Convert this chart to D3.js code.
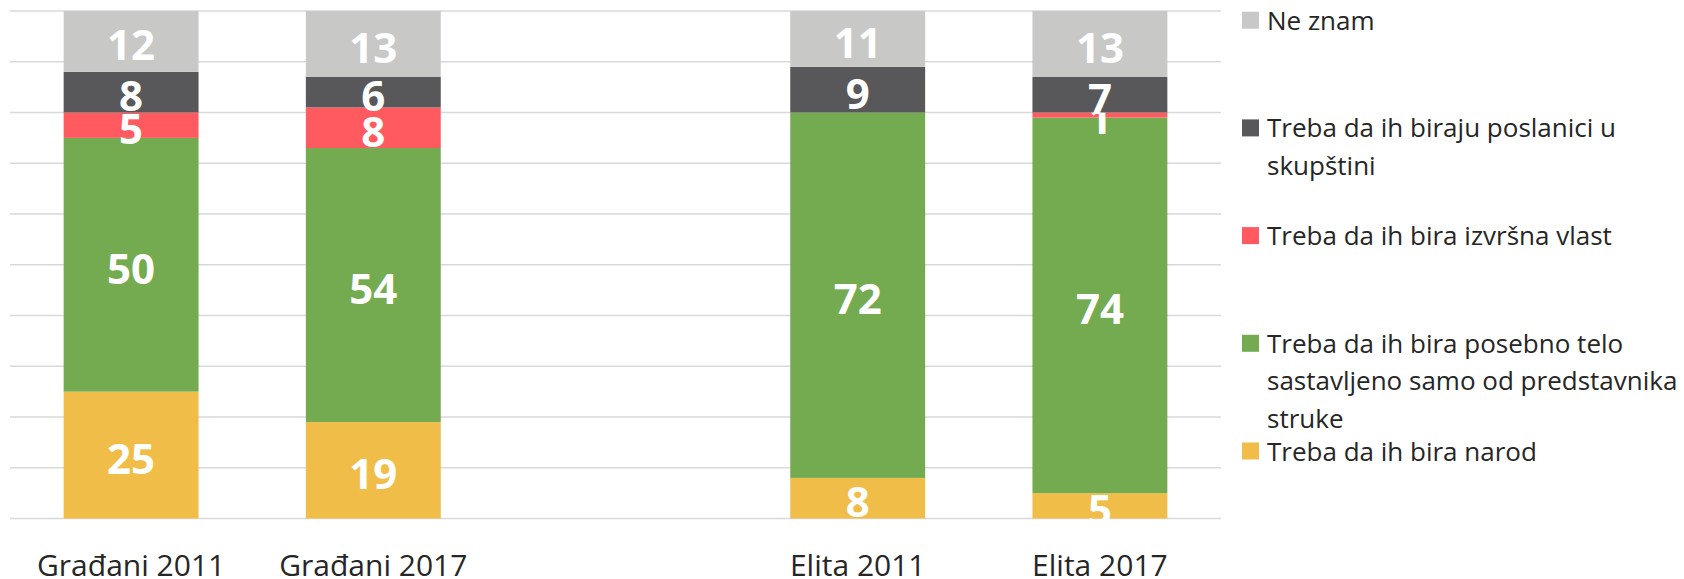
<!DOCTYPE html>
<html>
<head>
<meta charset="utf-8">
<script src="https://cdn.jsdelivr.net/npm/d3@7"></script>
<style>
  body{margin:0;background:#fff;}
  text{font-family:"Open Sans","Noto Sans",sans-serif;}
  .inside{fill:#fff;font-weight:bold;font-size:42px;text-anchor:middle;}
  .label{fill:#262626;font-size:26px;}
  .tick text{fill:#262626;font-size:30px;}
</style>
</head>
<body>
<svg id="stackchart"></svg>
<script>
// categories (x axis), with one empty slot between the two groups
const categories=["Građani 2011","Građani 2017","Elita 2011","Elita 2017"];
const slots=["Građani 2011","Građani 2017","gap","Elita 2011","Elita 2017"];
// series, bottom to top of each bar
const seriesNames=[
  "Treba da ih bira narod",
  "Treba da ih bira posebno telo\nsastavljeno samo od predstavnika\nstruke",
  "Treba da ih bira izvršna vlast",
  "Treba da ih biraju poslanici u\nskupštini",
  "Ne znam"
];
const narod=[25,19,8,5];
const posebnoTelo=[50,54,72,74];
const izvrsna=[5,8,0,1];
const poslanici=[8,6,9,7];
const neZnam=[12,13,11,13];
const yTicks=[0,10,20,30,40,50,60,70,80,90,100];

function stackchart(){
    const width=1684;
    const height=579;
    const svg=d3.select("#stackchart")
                .attr("width",width)
                .attr("height",height);

    // colours in the same order as the series
    var color=d3.scaleOrdinal()
        .domain(seriesNames)
        .range(["#f0be48","#74ab50","#ff5a5f","#58585a","#c8c8c6"]);

    // build a table the stack layout can read
    const allSeries=[narod,posebnoTelo,izvrsna,poslanici,neZnam];
    const table=categories.map(function(c,i){
        var row={category:c};
        seriesNames.forEach(function(s,j){row[s]=allSeries[j][i];});
        return row;
    });
    const stacked=d3.stack().keys(seriesNames)(table);

    var x=d3.scaleBand()
        .domain(slots)
        .range([10,1221])
        .paddingInner(0.443)
        .paddingOuter(0.2215);
    var y=d3.scaleLinear()
        .domain([0,100])
        .range([518.5,11]);

    // horizontal grid lines
    svg.append("g").selectAll("line")
        .data(yTicks)
        .enter().append("line")
        .attr("x1",10)
        .attr("x2",1221)
        .attr("y1",function(d){return y(d);})
        .attr("y2",function(d){return y(d);})
        .style("stroke","#d9d9d9")
        .style("stroke-width",1.5);

    // stacked segments
    var layers=svg.append("g").selectAll("g")
        .data(stacked)
        .enter().append("g")
        .attr("fill",function(d){return color(d.key);});
    layers.selectAll("rect")
        .data(function(d){return d;})
        .enter().append("rect")
        .attr("x",function(d){return x(d.data.category);})
        .attr("width",x.bandwidth())
        .attr("y",function(d){return y(d[1]);})
        .attr("height",function(d){return y(d[0])-y(d[1]);});

    // value labels, skip zero values
    layers.selectAll("text")
        .data(function(d){return d.filter(function(p){return p[1]-p[0]>0;});})
        .enter().append("text")
        .classed("inside",true)
        .attr("x",function(d){return x(d.data.category)+x.bandwidth()/2;})
        .attr("y",function(d){return (y(d[0])+y(d[1]))/2+19;})
        .text(function(d){return d[1]-d[0];});

    // category axis
    var axis=svg.append("g")
        .attr("transform","translate(0,518.5)")
        .call(d3.axisBottom(x).tickSize(0)
              .tickFormat(function(d){return d==="gap"?"":d;}));
    axis.select(".domain").remove();
    axis.selectAll(".tick text").attr("dy","0").attr("y",57);

    // legend, top entry is the top of the stack
    var legendData=seriesNames.slice().reverse();
    var legend=svg.append("g").selectAll(".legends")
        .data(legendData)
        .enter().append("g").classed("legends",true)
        .attr("transform",function(d,i){
            return "translate(1242,"+(11.7+i*107.7)+")";
        });
    legend.append("rect").attr("width",17).attr("height",17)
        .attr("fill",function(d){return color(d);});
    legend.append("text").classed("label",true)
        .attr("x",25)
        .attr("y",18)
        .selectAll("tspan")
        .data(function(d){return d.split("\n");})
        .enter().append("tspan")
        .attr("x",25)
        .attr("dy",function(d,i){return i===0?0:37.7;})
        .text(function(d){return d;});
}
stackchart();
</script>
</body>
</html>
